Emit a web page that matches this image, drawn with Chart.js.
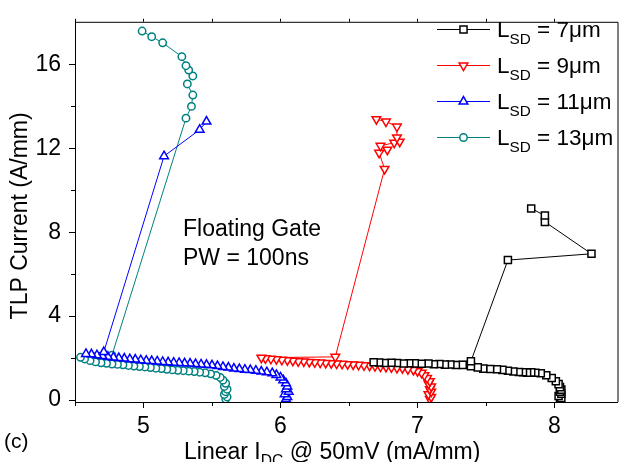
<!DOCTYPE html>
<html>
<head>
<meta charset="utf-8">
<script src="https://cdn.jsdelivr.net/npm/chart.js@4.4.1/dist/chart.umd.min.js"></script>
<style>
  body { margin: 0; background: #fff; }
  #wrap { width: 624px; height: 462px; }
</style>
</head>
<body>
<div id="wrap"><canvas id="tlpChart" width="624" height="462"></canvas></div>
<script>
// tick labels
const xTicks = [5, 6, 7, 8];
const yTicks = [0, 4, 8, 12, 16];
const xMinorTicks = [4.5, 5.5, 6.5, 7.5];
const yMinorTicks = [2, 6, 10, 14];

// legend categories (L_SD values)
const lsdValues = ["7", "9", "11", "13"];

// L_SD = 7um
const lsd7X = [8.04, 8.05, 8.03, 8.05, 8.04, 8.05, 8.04, 8.03, 8.01, 7.98, 7.94, 7.90, 7.86, 7.83, 7.80, 7.77, 7.74, 7.70,
    7.66, 7.62, 7.58, 7.53, 7.48, 7.44, 7.39, 7.33, 7.28, 7.24, 7.20, 7.16, 7.12, 7.08, 7.03, 6.98, 6.94, 6.90, 6.85,
    6.81, 6.76, 6.72, 6.68, 7.39, 7.66, 8.27, 7.93, 7.93, 7.83];
const lsd7Y = [0.02, 0.10, 0.20, 0.30, 0.40, 0.50, 0.62, 0.76, 0.90, 1.05, 1.18, 1.28, 1.30, 1.32, 1.31, 1.33, 1.34, 1.36,
    1.40, 1.44, 1.47, 1.48, 1.50, 1.56, 1.62, 1.68, 1.67, 1.70, 1.69, 1.72, 1.71, 1.74, 1.73, 1.75, 1.76, 1.74, 1.77,
    1.78, 1.77, 1.79, 1.80, 1.85, 6.67, 6.97, 8.49, 8.79, 9.13];

// L_SD = 9um
const lsd9X = [7.09, 7.10, 7.08, 7.10, 7.09, 7.10, 7.08, 7.09, 7.07, 7.05, 7.03, 7.00, 6.97, 6.93, 6.89, 6.85, 6.81, 6.77,
    6.73, 6.69, 6.65, 6.61, 6.57, 6.53, 6.49, 6.45, 6.41, 6.37, 6.33, 6.29, 6.25, 6.21, 6.17, 6.13, 6.09, 6.05, 6.01,
    5.97, 5.93, 5.89, 5.86, 6.40, 6.76, 6.72, 6.78, 6.73, 6.83, 6.87, 6.85, 6.85, 6.77, 6.70];
const lsd9Y = [0.05, 0.15, 0.28, 0.40, 0.52, 0.65, 0.78, 0.90, 1.05, 1.18, 1.30, 1.38, 1.44, 1.47, 1.52, 1.53, 1.56, 1.58,
    1.60, 1.62, 1.64, 1.66, 1.68, 1.70, 1.71, 1.73, 1.74, 1.76, 1.77, 1.79, 1.80, 1.82, 1.84, 1.85, 1.88, 1.90, 1.92,
    1.95, 1.97, 1.99, 2.02, 2.06, 11.01, 11.78, 11.93, 12.11, 12.26, 12.31, 12.51, 13.03, 13.27, 13.38];

// L_SD = 11um
const lsd11X = [6.04, 6.05, 6.03, 6.06, 6.04, 6.05, 6.04, 6.02, 6.00, 5.97, 5.94, 5.90, 5.86, 5.82, 5.78, 5.74, 5.70, 5.66,
    5.62, 5.58, 5.54, 5.50, 5.46, 5.42, 5.38, 5.34, 5.30, 5.26, 5.22, 5.18, 5.14, 5.10, 5.06, 5.02, 4.98, 4.94, 4.90,
    4.86, 4.82, 4.78, 4.74, 4.70, 4.66, 4.62, 4.58, 4.71, 5.15, 5.41, 5.46];
const lsd11Y = [0.05, 0.15, 0.28, 0.40, 0.52, 0.65, 0.80, 0.95, 1.08, 1.20, 1.28, 1.33, 1.36, 1.40, 1.43, 1.45, 1.48, 1.50,
    1.55, 1.58, 1.62, 1.66, 1.68, 1.70, 1.72, 1.74, 1.75, 1.77, 1.78, 1.80, 1.82, 1.84, 1.86, 1.88, 1.90, 1.93, 1.95,
    1.98, 2.00, 2.03, 2.06, 2.10, 2.14, 2.18, 2.20, 2.29, 11.62, 12.88, 13.27];

// L_SD = 13um
const lsd13X = [5.60, 5.61, 5.59, 5.60, 5.61, 5.59, 5.60, 5.58, 5.56, 5.53, 5.49, 5.45, 5.41, 5.37, 5.33, 5.29, 5.25, 5.21,
    5.17, 5.13, 5.09, 5.05, 5.01, 4.97, 4.93, 4.89, 4.85, 4.81, 4.77, 4.73, 4.69, 4.65, 4.61, 4.57, 4.54, 4.77, 5.31,
    5.35, 5.36, 5.32, 5.36, 5.33, 5.31, 5.28, 5.14, 5.06, 4.99];
const lsd13Y = [0.05, 0.15, 0.27, 0.40, 0.52, 0.65, 0.80, 0.95, 1.08, 1.18, 1.25, 1.30, 1.33, 1.36, 1.38, 1.40, 1.42, 1.44,
    1.47, 1.50, 1.52, 1.55, 1.58, 1.60, 1.62, 1.65, 1.68, 1.70, 1.72, 1.75, 1.78, 1.82, 1.88, 1.96, 2.04, 2.14, 13.43,
    13.99, 14.53, 15.06, 15.44, 15.72, 15.93, 16.36, 17.02, 17.31, 17.58];

const FONT = "'Liberation Sans', Arial, sans-serif";

// zip x and y arrays into points
const toPoints = (xs, ys) => xs.map((x, i) => ({ x: x, y: ys[i] }));

const makeSet = (label, xs, ys, color, style, radius, rotation) => ({
    label: label,
    data: toPoints(xs, ys),
    showLine: true,
    borderColor: color,
    borderWidth: 1,
    pointStyle: style,
    pointRadius: radius,
    pointRotation: rotation,
    pointBorderColor: color,
    pointBorderWidth: 1.5,
    pointBackgroundColor: '#fff',
    pointHoverRadius: radius
});

const seriesStyle = [
    { color: '#000000', style: 'rect', radius: 5, rotation: 0 },
    { color: '#ff0000', style: 'triangle', radius: 5, rotation: 180 },
    { color: '#0000ff', style: 'triangle', radius: 5, rotation: 0 },
    { color: '#008080', style: 'circle', radius: 3.7, rotation: 0 }
];
const seriesX = [lsd7X, lsd9X, lsd11X, lsd13X];
const seriesY = [lsd7Y, lsd9Y, lsd11Y, lsd13Y];

const datasets = lsdValues.map((v, i) => makeSet("LSD = " + v + "um", seriesX[i], seriesY[i],
    seriesStyle[i].color, seriesStyle[i].style, seriesStyle[i].radius, seriesStyle[i].rotation));

// draw text pieces, some of them as subscript
const drawRich = (ctx, parts, x, y, size) => {
    let cx = x;
    parts.forEach(p => {
        const s = p.sub ? size * 0.68 : size;
        ctx.font = s + "px " + FONT;
        ctx.fillText(p.t, cx, p.sub ? y + size * 0.32 : y);
        cx += ctx.measureText(p.t).width;
    });
    return cx;
};

// frame, minor ticks, titles, legend and note
const decorPlugin = {
    id: 'decor',
    afterDraw(chart) {
        const ctx = chart.ctx;
        const a = chart.chartArea;
        const xs = chart.scales.x, ys = chart.scales.y;
        ctx.save();
        ctx.strokeStyle = '#000';
        ctx.lineWidth = 1;
        // top and right frame
        ctx.beginPath();
        ctx.moveTo(a.left, a.top + 0.5);
        ctx.lineTo(a.right + 0.5, a.top + 0.5);
        ctx.lineTo(a.right + 0.5, a.bottom);
        ctx.stroke();
        // minor ticks
        ctx.beginPath();
        xMinorTicks.forEach(v => {
            const px = Math.round(xs.getPixelForValue(v)) + 0.5;
            ctx.moveTo(px, a.bottom);
            ctx.lineTo(px, a.bottom + 4);
        });
        yMinorTicks.forEach(v => {
            const py = Math.round(ys.getPixelForValue(v)) + 0.5;
            ctx.moveTo(a.left, py);
            ctx.lineTo(a.left - 4, py);
        });
        // top ticks
        xTicks.concat(xMinorTicks).forEach(v => {
            const px = Math.round(xs.getPixelForValue(v)) + 0.5;
            ctx.moveTo(px, a.top);
            ctx.lineTo(px, a.top - 3);
        });
        ctx.stroke();

        ctx.fillStyle = '#000';
        ctx.textBaseline = 'alphabetic';
        ctx.textAlign = 'left';

        // x axis title
        drawRich(ctx, [{ t: "Linear I" }, { t: "DC", sub: true }, { t: " @ 50mV (mA/mm)" }], 184, 459, 23);

        // y axis title
        ctx.save();
        ctx.translate(27, (a.top + a.bottom) / 2 + 4);
        ctx.rotate(-Math.PI / 2);
        ctx.font = "23px " + FONT;
        ctx.textAlign = 'center';
        ctx.fillText("TLP Current (A/mm)", 0, 0);
        ctx.restore();

        // panel label
        ctx.font = "21px " + FONT;
        ctx.fillText("(c)", 4, 448);

        // note
        ctx.font = "23px " + FONT;
        ctx.fillText("Floating Gate", 183, 236);
        ctx.fillText("PW = 100ns", 183, 265);

        // legend
        datasets.forEach((ds, i) => {
            const st = seriesStyle[i];
            const ly = 29 + i * 36;
            ctx.strokeStyle = st.color;
            ctx.lineWidth = 1;
            ctx.beginPath();
            ctx.moveTo(437, ly + 0.5);
            ctx.lineTo(490, ly + 0.5);
            ctx.stroke();
            ctx.fillStyle = '#fff';
            ctx.lineWidth = 1.5;
            Chart.helpers.drawPoint(ctx, { pointStyle: st.style, radius: st.radius, rotation: st.rotation, borderWidth: 1.5 }, 463.5, ly + 0.5);
            ctx.fillStyle = '#000';
            drawRich(ctx, [{ t: "L" }, { t: "SD", sub: true }, { t: " = " + lsdValues[i] + "\u03bcm" }], 497, ly + 8, 22.5);
        });
        ctx.restore();
    }
};

const axisCommon = {
    type: 'linear',
    ticks: { color: '#000', font: { family: FONT, size: 23 }, maxRotation: 0 },
    grid: { display: true, drawOnChartArea: false, drawTicks: true, tickLength: 6, tickColor: '#000', tickWidth: 1 },
    border: { display: true, color: '#000', width: 1 },
    title: { display: false }
};

new Chart(document.getElementById('tlpChart'), {
    type: 'scatter',
    data: { datasets: datasets },
    options: {
        responsive: false,
        animation: false,
        events: [],
        layout: { padding: { top: 7, right: 3, left: 0, bottom: 0 } },
        plugins: { legend: { display: false }, tooltip: { enabled: false } },
        scales: {
            x: Object.assign({}, axisCommon, {
                min: 4.5,
                max: 8.46,
                ticks: Object.assign({}, axisCommon.ticks, { padding: 5 }),
                afterBuildTicks: s => { s.ticks = xTicks.map(v => ({ value: v })); },
                afterFit: s => { s.height = 60; }
            }),
            y: Object.assign({}, axisCommon, {
                min: -0.09,
                max: 18.02,
                ticks: Object.assign({}, axisCommon.ticks, { padding: 8 }),
                afterBuildTicks: s => { s.ticks = yTicks.map(v => ({ value: v })); },
                afterFit: s => { s.width = 75; }
            })
        }
    },
    plugins: [decorPlugin]
});
</script>
</body>
</html>
